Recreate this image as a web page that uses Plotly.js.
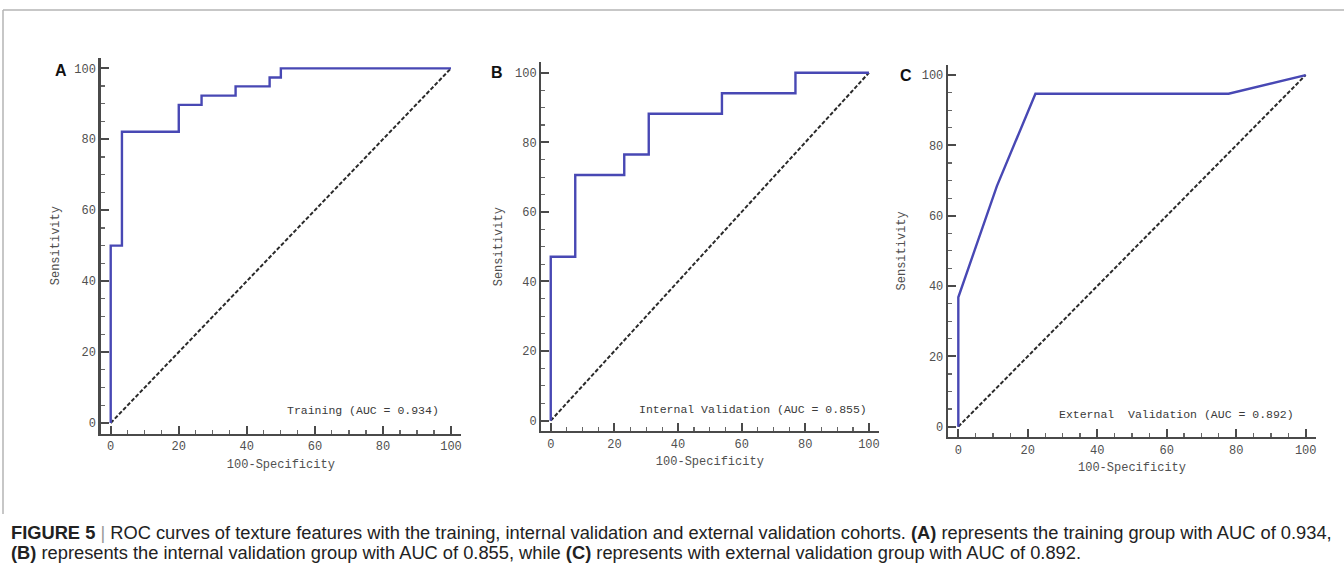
<!DOCTYPE html>
<html>
<head>
<meta charset="utf-8">
<script src="https://cdn.plot.ly/plotly-3.0.1.min.js"></script>
<style>
html,body{margin:0;padding:0;background:#fff;}
#chart{width:1344px;height:564px;}
</style>
</head>
<body>
<div id="chart"></div>
<script>
// ---- Data ----
const trainFPR = [0, 0, 3.3, 20, 26.7, 36.7, 46.7, 50, 100];
const trainTPR = [0, 50, 82.1, 89.7, 92.3, 94.9, 97.4, 100, 100];
const internalFPR = [0, 0, 7.7, 23.1, 30.8, 53.8, 76.9, 100];
const internalTPR = [0, 47.1, 70.6, 76.5, 88.2, 94.1, 100, 100];
const externalFPR = [0, 0, 11.1, 22.2, 77.8, 100];
const externalTPR = [0, 36.8, 68.4, 94.7, 94.7, 100];
const refLine = [0, 100];
const panelLabels = ["A", "B", "C"];
const aucLabels = ["Training (AUC = 0.934)", "Internal Validation (AUC = 0.855)", "External  Validation (AUC = 0.892)"];
const tickVals = [0, 20, 40, 60, 80, 100];
const xTitle = "100-Specificity";
const yTitle = "Sensitivity";
const captionLine1 = "<b>FIGURE 5</b> <span style='color:#999'>|</span> ROC curves of texture features with the training, internal validation and external validation cohorts. <b>(A)</b> represents the training group with AUC of 0.934,";
const captionLine2 = "<b>(B)</b> represents the internal validation group with AUC of 0.855, while <b>(C)</b> represents with external validation group with AUC of 0.892.";

// ---- Layout helpers (pixel -> paper) ----
const W = 1344, H = 564;
const px = x => x / W;
const py = y => 1 - y / H;

const panels = [
  {x0: 100.5, x1: 461.2, yTop: 57.7, yBot: 433.6, fpr: trainFPR, tpr: trainTPR, shape: 'hv',
   letter: [61, 70], auc: [363, 410], ystand: 12},
  {x0: 541.2, x1: 878.5, yTop: 62.3, yBot: 431.1, fpr: internalFPR, tpr: internalTPR, shape: 'hv',
   letter: [497, 73], auc: [753, 409], ystand: 10},
  {x0: 947.9, x1: 1316.1, yTop: 64.5, yBot: 437.2, fpr: externalFPR, tpr: externalTPR, shape: 'linear',
   letter: [906, 75], auc: [1176, 414], ystand: 14}
];

const monoFont = {family: "'Liberation Mono', 'DejaVu Sans Mono', monospace", size: 12, color: '#505050'};
const axisColor = '#4a4a4a';

const data = [];
const layout = {
  width: W, height: H,
  margin: {l: 0, r: 0, t: 0, b: 0},
  paper_bgcolor: '#fff', plot_bgcolor: 'rgba(0,0,0,0)',
  showlegend: false,
  annotations: [],
  shapes: [
    {type: 'line', xref: 'paper', yref: 'paper', x0: px(3), x1: px(1344), y0: py(10), y1: py(10), line: {color: '#b4b4b4', width: 1.5}},
    {type: 'line', xref: 'paper', yref: 'paper', x0: px(3), x1: px(3), y0: py(10), y1: py(514), line: {color: '#b4b4b4', width: 1.5}}
  ]
};

panels.forEach((p, i) => {
  const n = i === 0 ? '' : String(i + 1);
  const xa = 'x' + n, ya = 'y' + n;
  data.push({
    x: refLine, y: refLine, xaxis: xa, yaxis: ya, mode: 'lines',
    line: {color: '#2a2a2a', width: 2, dash: '4px,2px'}, hoverinfo: 'skip'
  });
  data.push({
    x: p.fpr, y: p.tpr, xaxis: xa, yaxis: ya, mode: 'lines',
    line: {color: '#4848b4', width: 2.4, shape: p.shape}
  });
  const common = {
    range: [-3, 103], showgrid: false, zeroline: false,
    showline: true, linecolor: axisColor, linewidth: 2.2,
    ticks: 'inside', ticklen: 8, tickwidth: 2, tickcolor: axisColor,
    tickvals: tickVals, ticktext: tickVals.map(String),
    tickfont: monoFont,
    minor: {dtick: 5, tick0: 0, ticks: 'inside', ticklen: 4, tickwidth: 1.2, tickcolor: '#666'},
    fixedrange: true
  };
  layout['xaxis' + n] = Object.assign({}, common, {
    domain: [px(p.x0), px(p.x1)], anchor: ya,
    title: {text: xTitle, font: monoFont, standoff: 6}
  });
  layout['yaxis' + n] = Object.assign({}, common, {
    domain: [py(p.yBot), py(p.yTop)], anchor: xa,
    title: {text: yTitle, font: monoFont, standoff: p.ystand}
  });
  layout.annotations.push({
    xref: 'paper', yref: 'paper', x: px(p.letter[0]), y: py(p.letter[1]),
    text: '<b>' + panelLabels[i] + '</b>', showarrow: false, xanchor: 'center', yanchor: 'middle',
    font: {family: "'Liberation Sans', Arial, sans-serif", size: 16, color: '#111'}
  });
  layout.annotations.push({
    xref: 'paper', yref: 'paper', x: px(p.auc[0]), y: py(p.auc[1]),
    text: aucLabels[i].replace(/  /g, '&nbsp; '), showarrow: false, xanchor: 'center', yanchor: 'middle',
    font: {family: "'Liberation Mono', 'DejaVu Sans Mono', monospace", size: 11.5, color: '#3a3a3a'}
  });
});

const capFont = {family: "'Liberation Sans', Arial, sans-serif", size: 18.3, color: '#222'};
layout.annotations.push({
  xref: 'paper', yref: 'paper', x: px(9), y: py(532), text: captionLine1,
  showarrow: false, xanchor: 'left', yanchor: 'middle', font: capFont
});
layout.annotations.push({
  xref: 'paper', yref: 'paper', x: px(9), y: py(552), text: captionLine2,
  showarrow: false, xanchor: 'left', yanchor: 'middle', font: capFont
});

Plotly.newPlot('chart', data, layout, {displayModeBar: false, staticPlot: true});
</script>
</body>
</html>
